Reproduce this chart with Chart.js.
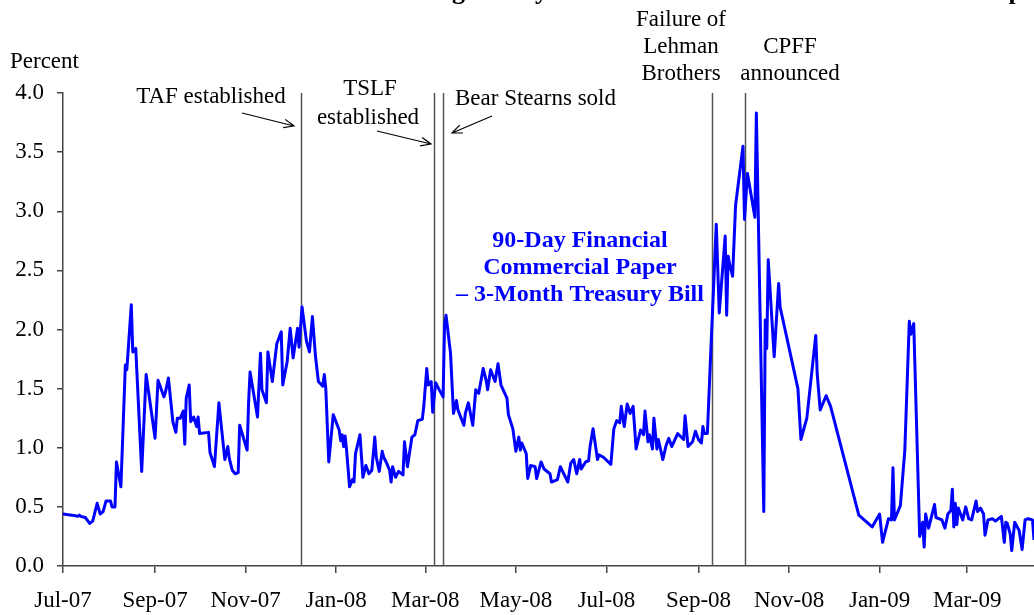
<!DOCTYPE html>
<html>
<head>
<meta charset="utf-8">
<script src="https://cdn.jsdelivr.net/npm/chart.js@4.4.0/dist/chart.umd.min.js"></script>
<style>
  html, body { margin: 0; padding: 0; background: #fff; }
  #wrap { width: 1034px; height: 615px; position: relative; }
</style>
</head>
<body>
<div id="wrap"><canvas id="spreadChart"></canvas></div>
<script>
// x values are days counted from 1 Jul 2007
const dayOffsets = [
  0, 6, 10, 11, 12, 15, 18, 20, 23, 25, 27, 29, 32, 33, 35, 36, 39, 42, 43, 46, 47, 49, 53, 56, 62, 64, 68, 69, 71, 74,
  76, 77, 79, 81, 82, 83, 85, 86, 88, 90, 91, 92, 98, 99, 102, 105, 109, 111, 112, 114, 116, 118, 119, 124, 125, 126, 131, 133, 134, 137,
  138, 141, 144, 147, 148, 151, 153, 155, 158, 159, 161, 164, 166, 168, 170, 172, 175, 176, 177, 179, 182, 186, 187, 188, 189, 190, 191, 193, 195, 196,
  197, 200, 202, 204, 206, 208, 210, 211, 213, 215, 216, 218, 220, 221, 222, 224, 226, 229, 230, 232, 235, 237, 239, 242, 243, 245, 246, 248, 249, 251,
  253, 256, 257, 258, 261, 263, 265, 266, 270, 271, 273, 276, 278, 280, 283, 285, 286, 288, 291, 293, 295, 299, 300, 303, 305, 307, 308, 309, 312, 313,
  315, 318, 319, 322, 324, 328, 329, 333, 335, 340, 342, 344, 346, 348, 349, 352, 354, 355, 357, 360, 361, 364, 369, 371, 373, 375, 376, 378, 380, 382,
  384, 386, 389, 391, 392, 394, 395, 397, 398, 400, 401, 404, 406, 408, 410, 414, 418, 419, 421, 424, 426, 428, 430, 431, 432, 434, 436, 440, 442, 446,
  447, 448, 449, 451, 453, 458, 459, 461, 466, 467, 472, 473, 474, 475, 479, 482, 483, 495, 497, 501, 507, 508, 510, 514, 517, 536, 545, 550, 552, 556,
  558, 559, 560, 564, 567, 570, 571, 573, 577, 579, 580, 581, 583, 585, 587, 588, 592, 594, 596, 598, 599, 600, 601, 602, 603, 606, 608, 610, 612, 615,
  616, 618, 620, 621, 623, 626, 628, 632, 634, 635, 636, 638, 639, 641, 644, 646, 648, 650, 653, 654
];
const spreadValues = [
  0.44, 0.43, 0.42, 0.43, 0.42, 0.41, 0.36, 0.38, 0.53, 0.44, 0.46, 0.55, 0.55, 0.50, 0.50, 0.88, 0.67, 1.70, 1.66, 2.21, 1.81, 1.84, 0.80, 1.62, 1.08, 1.57, 1.43, 1.47, 1.59, 1.22,
  1.13, 1.25, 1.25, 1.31, 1.03, 1.42, 1.53, 1.22, 1.26, 1.18, 1.26, 1.12, 1.13, 0.96, 0.84, 1.38, 0.90, 1.01, 0.91, 0.81, 0.78, 0.79, 1.19, 0.98, 1.38, 1.64, 1.26, 1.80, 1.49, 1.38,
  1.81, 1.56, 1.88, 1.98, 1.53, 1.73, 2.01, 1.76, 2.01, 1.85, 2.19, 1.90, 1.81, 2.11, 1.78, 1.56, 1.52, 1.62, 1.50, 0.88, 1.28, 1.15, 1.06, 1.11, 1.01, 1.10, 0.98, 0.67, 0.73, 0.71,
  0.95, 1.11, 0.75, 0.85, 0.78, 0.81, 1.09, 0.92, 0.80, 0.97, 0.92, 0.87, 0.81, 0.71, 0.84, 0.75, 0.80, 0.77, 1.05, 0.84, 1.09, 1.11, 1.23, 1.24, 1.35, 1.67, 1.53, 1.56, 1.30, 1.55,
  1.50, 1.43, 2.04, 2.12, 1.80, 1.29, 1.40, 1.32, 1.19, 1.29, 1.38, 1.19, 1.49, 1.46, 1.67, 1.57, 1.49, 1.66, 1.56, 1.71, 1.53, 1.42, 1.28, 1.16, 0.97, 1.09, 0.98, 1.04, 0.95, 0.74,
  0.85, 0.84, 0.74, 0.88, 0.82, 0.78, 0.71, 0.73, 0.84, 0.71, 0.87, 0.90, 0.78, 0.90, 0.82, 0.88, 0.89, 1.01, 1.16, 0.90, 0.94, 0.92, 0.86, 1.16, 1.23, 1.21, 1.35, 1.18, 1.37, 1.29,
  1.35, 0.99, 1.15, 1.11, 1.31, 1.05, 1.11, 0.99, 1.25, 0.99, 1.07, 0.90, 1.01, 1.08, 1.01, 1.12, 1.07, 1.27, 1.01, 1.05, 1.14, 1.07, 1.04, 1.18, 1.12, 1.12, 1.72, 2.89, 2.14, 2.79,
  2.12, 2.62, 2.55, 2.45, 3.05, 3.55, 2.93, 3.32, 2.95, 3.83, 0.46, 2.08, 1.84, 2.59, 1.77, 2.39, 2.19, 1.50, 1.07, 1.25, 1.95, 1.62, 1.32, 1.44, 1.35, 0.43, 0.33, 0.44, 0.20, 0.40,
  0.39, 0.83, 0.39, 0.51, 0.98, 2.07, 1.96, 2.05, 0.25, 0.37, 0.16, 0.44, 0.32, 0.42, 0.52, 0.41, 0.39, 0.32, 0.44, 0.47, 0.65, 0.33, 0.53, 0.35, 0.49, 0.39, 0.50, 0.40, 0.39, 0.55,
  0.46, 0.49, 0.44, 0.26, 0.39, 0.40, 0.38, 0.42, 0.20, 0.37, 0.36, 0.27, 0.13, 0.37, 0.30, 0.14, 0.39, 0.40, 0.39, 0.22
];

// x axis ticks (first of each month shown)
const tickDays = [0, 62, 123, 184, 244, 305, 366, 428, 489, 550, 609];
const tickLabels = ['Jul-07', 'Sep-07', 'Nov-07', 'Jan-08', 'Mar-08', 'May-08', 'Jul-08', 'Sep-08', 'Nov-08', 'Jan-09', 'Mar-09'];

// vertical event markers: TAF, TSLF, Bear Stearns, Lehman, CPFF
const eventDays = [160.3, 250.1, 256.0, 437.2, 459.2];

const serif = "'Liberation Serif', 'Times New Roman', serif";
Chart.defaults.font.family = serif;

function drawArrow(ctx, x1, y1, x2, y2) {
  const ang = Math.atan2(y2 - y1, x2 - x1);
  const head = 11;
  ctx.beginPath();
  ctx.moveTo(x1, y1);
  ctx.lineTo(x2, y2);
  ctx.moveTo(x2 - head * Math.cos(ang - 0.4), y2 - head * Math.sin(ang - 0.4));
  ctx.lineTo(x2, y2);
  ctx.lineTo(x2 - head * Math.cos(ang + 0.4), y2 - head * Math.sin(ang + 0.4));
  ctx.stroke();
}

// event lines go under the blue series
const eventLines = {
  id: 'eventLines',
  beforeDatasetsDraw(chart) {
    const ctx = chart.ctx;
    const area = chart.chartArea;
    const xs = chart.scales.x;
    ctx.save();
    ctx.strokeStyle = '#555';
    ctx.lineWidth = 1.5;
    eventDays.forEach(d => {
      const px = Math.round(xs.getPixelForValue(d)) + 0.5;
      ctx.beginPath();
      ctx.moveTo(px, area.top);
      ctx.lineTo(px, area.bottom);
      ctx.stroke();
    });
    ctx.restore();
  }
};

// title, unit label and annotations
const labels = {
  id: 'labels',
  afterDraw(chart) {
    const ctx = chart.ctx;
    ctx.save();

    // title (cut off by the top edge, only descenders show)
    ctx.font = 'bold 26px ' + serif;
    ctx.fillStyle = '#000';
    ctx.textAlign = 'left';
    ctx.textBaseline = 'alphabetic';
    const lead = ctx.measureText('Widening').width;
    ctx.fillText('Widening Money Market Stress: Financial Commercial Paper', 465 - lead, -1);

    ctx.font = '23px ' + serif;
    ctx.fillText('Percent', 10, 68);

    ctx.textAlign = 'center';
    ctx.fillText('TAF established', 211, 103);
    ctx.fillText('TSLF', 370, 95);
    ctx.fillText('established', 368, 124);
    ctx.fillText('Failure of', 681, 26);
    ctx.fillText('Lehman', 681, 53);
    ctx.fillText('Brothers', 681, 80);
    ctx.fillText('CPFF', 790, 53);
    ctx.fillText('announced', 790, 80);
    ctx.textAlign = 'left';
    ctx.fillText('Bear Stearns sold', 455, 105);

    ctx.strokeStyle = '#000';
    ctx.lineWidth = 1.2;
    drawArrow(ctx, 242, 113, 294, 126);
    drawArrow(ctx, 377, 131, 431, 144);
    drawArrow(ctx, 492, 116, 452, 133);

    // series label
    ctx.font = 'bold 24px ' + serif;
    ctx.fillStyle = '#0000ff';
    ctx.textAlign = 'center';
    ctx.fillText('90-Day Financial', 580, 247);
    ctx.fillText('Commercial Paper', 580, 274);
    ctx.fillText('\u2013 3-Month Treasury Bill', 580, 301);

    ctx.restore();
  }
};

const points = dayOffsets.map((d, i) => ({ x: d, y: spreadValues[i] }));

const ctx = document.getElementById('spreadChart').getContext('2d');
const spreadChart = new Chart(ctx, {
  type: 'line',
  data: {
    datasets: [{
      label: '90-Day Financial Commercial Paper - 3-Month Treasury Bill',
      data: points,
      borderColor: '#0000ff',
      borderWidth: 3,
      borderJoinStyle: 'round',
      pointRadius: 0,
      tension: 0,
      fill: false
    }]
  },
  options: {
    responsive: true,
    maintainAspectRatio: false,
    animation: false,
    layout: { padding: { top: 93, right: 0, left: 0, bottom: 0 } },
    plugins: {
      legend: { display: false },
      tooltip: { enabled: false }
    },
    scales: {
      x: {
        type: 'linear',
        min: 0,
        max: 654,
        afterBuildTicks: scale => {
          scale.ticks = tickDays.map(v => ({ value: v }));
        },
        afterFit: scale => { scale.height = 49; },
        ticks: {
          autoSkip: false,
          maxRotation: 0,
          padding: 14,
          color: '#000',
          font: { size: 23, family: serif },
          callback: value => {
            const i = tickDays.indexOf(value);
            return i >= 0 ? tickLabels[i] : '';
          }
        },
        grid: { drawOnChartArea: false, drawTicks: true, tickLength: 7, color: '#444', lineWidth: 1.5 },
        border: { display: true, color: '#444', width: 1.5 }
      },
      y: {
        min: 0,
        max: 4,
        afterFit: scale => { scale.width = 63; },
        ticks: {
          stepSize: 0.5,
          padding: 13,
          color: '#000',
          font: { size: 23, family: serif },
          callback: value => value.toFixed(1)
        },
        grid: { drawOnChartArea: false, drawTicks: true, tickLength: 6, color: '#444', lineWidth: 1.5 },
        border: { display: true, color: '#444', width: 1.5 }
      }
    }
  },
  plugins: [eventLines, labels]
});
</script>
</body>
</html>
